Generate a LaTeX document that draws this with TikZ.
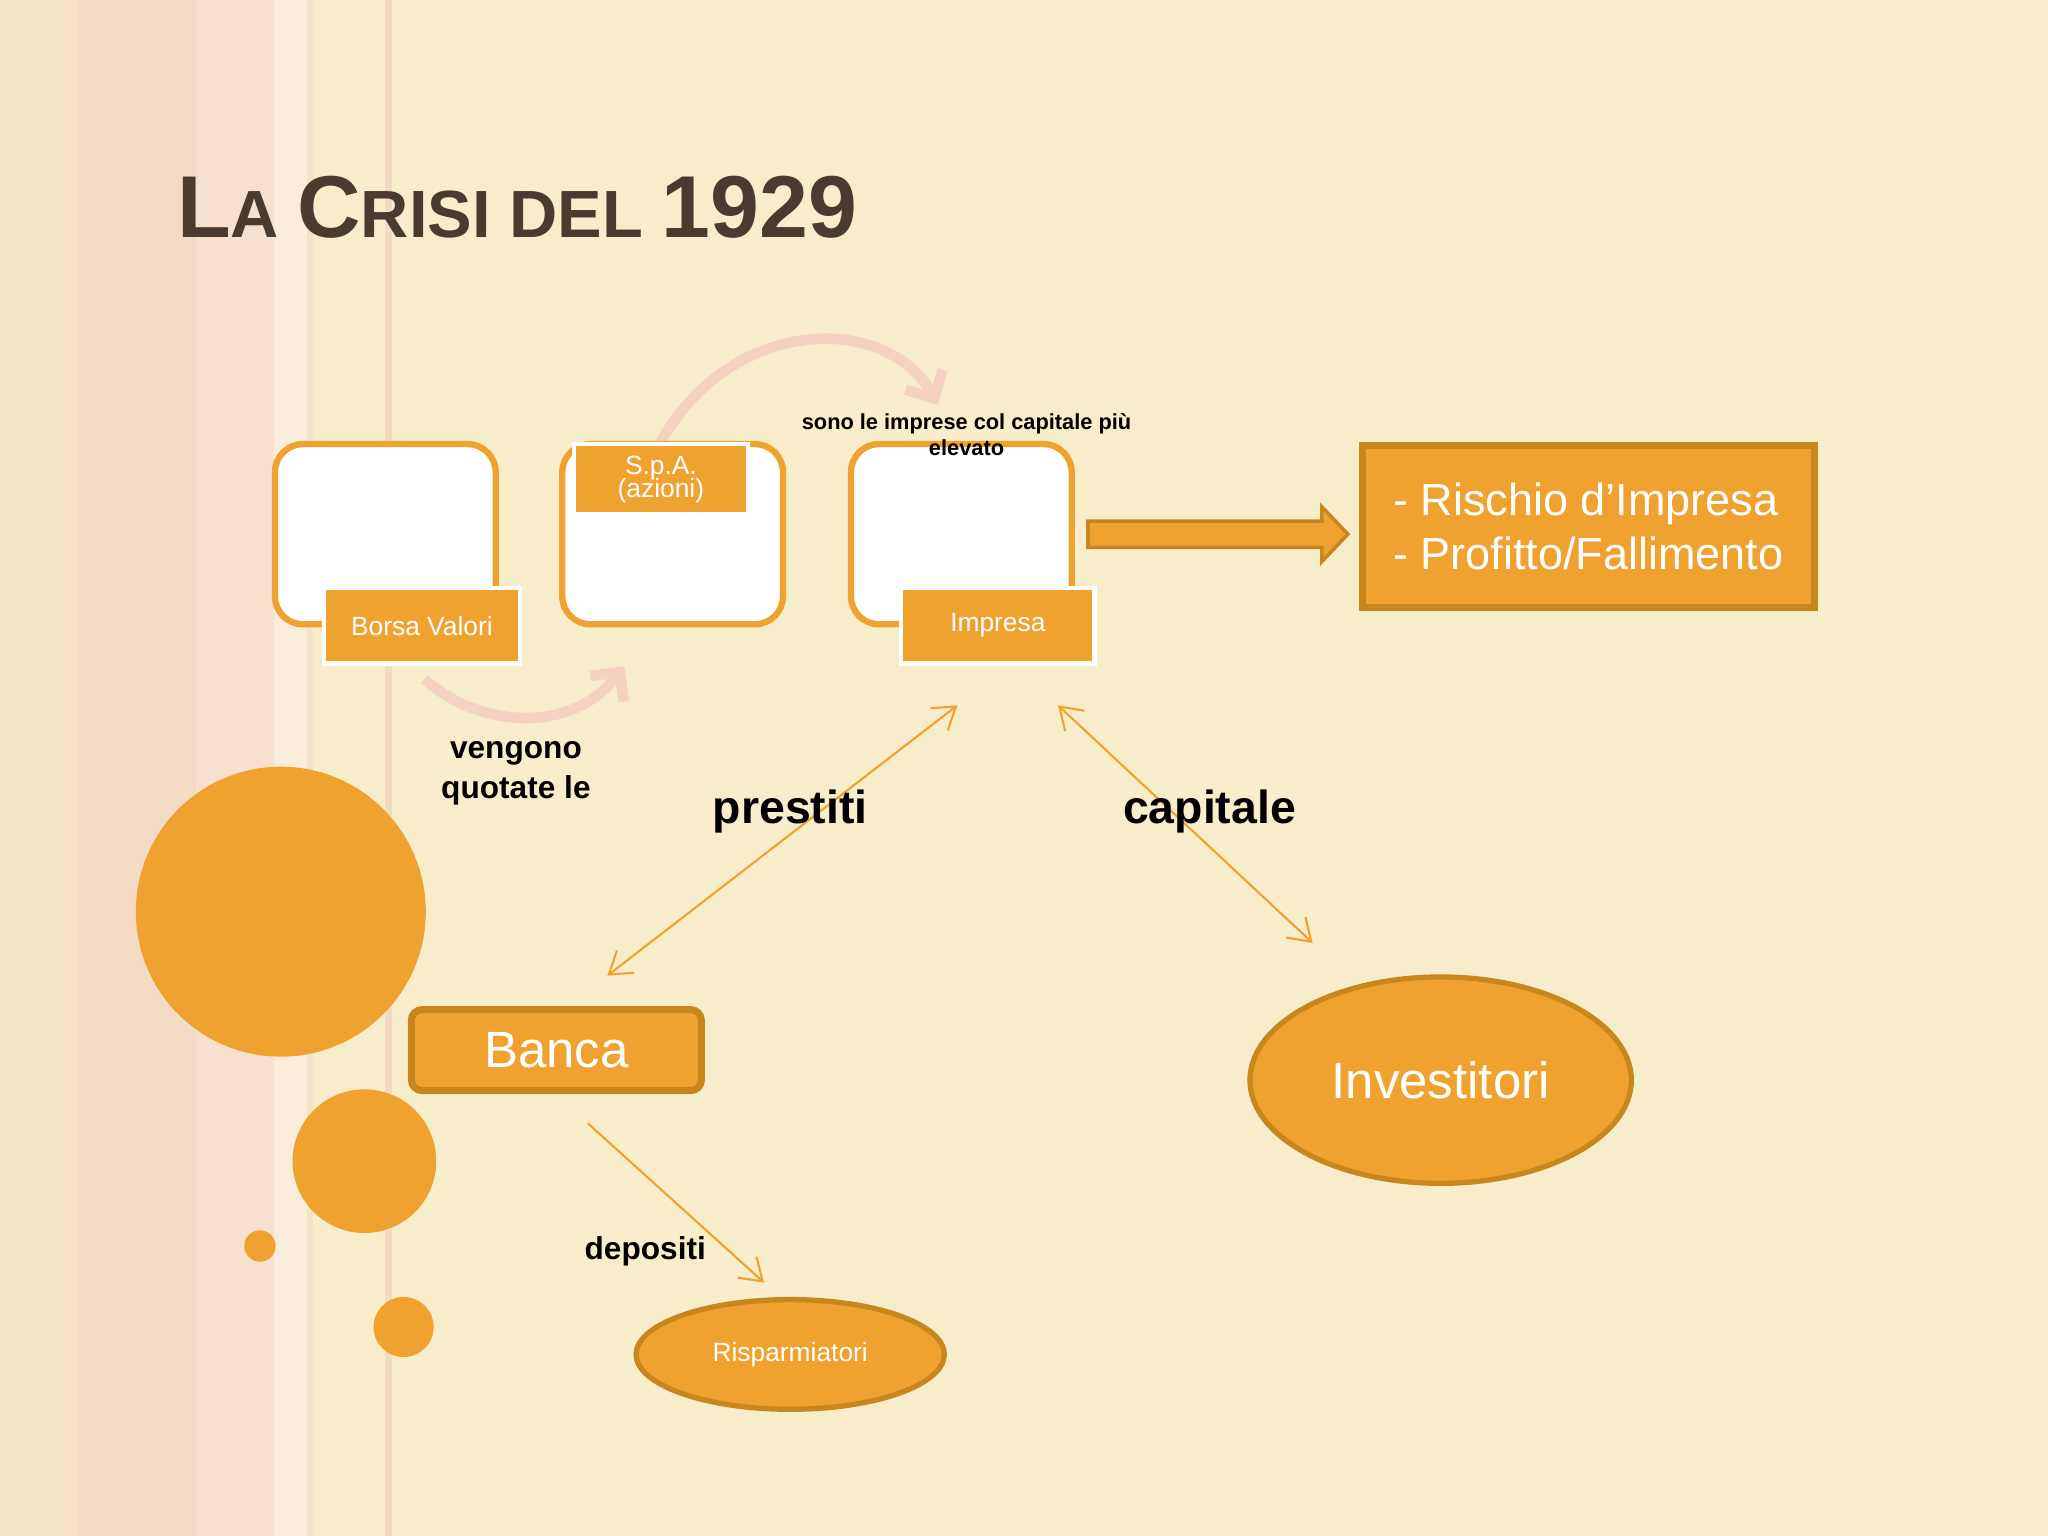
\documentclass[tikz,border=0pt]{standalone}
\usepackage{fontspec}
\setmainfont{Liberation Sans}
\usetikzlibrary{shapes.geometric,arrows.meta}
\definecolor{bg}{HTML}{F8EDCB}
\definecolor{org}{HTML}{EFA22F}
\definecolor{orgd}{HTML}{C8861E}
\definecolor{pinkarc}{HTML}{F5D2C0}
\definecolor{titlec}{HTML}{4A3B2E}
\tikzset{
  frame/.style={draw=org,line width=1.8pt,fill=white,rounded corners=8pt,minimum width=169*0.013061cm,minimum height=138*0.013061cm},
  lab/.style={draw=white,line width=1.2pt,fill=org,text=white,font=\fontsize{7.5}{8.5}\selectfont,align=center},
  thinarr/.style={draw=org,line width=0.6pt,{Straight Barb[length=6pt,width=8pt]}-{Straight Barb[length=6pt,width=8pt]}},
  bt/.style={font=\bfseries,align=center}
}
\begin{document}
\begin{tikzpicture}[x=0.013061cm,y=-0.013061cm]
\useasboundingbox (0,0) rectangle (1568,1176);
\fill[bg] (0,0) rectangle (1568,1176);
% left stripes
\fill[pinkarc,opacity=0.35] (0,0) rectangle (240,1176);
\fill[pinkarc,opacity=0.45] (60,0) rectangle (150,1176);
\fill[pinkarc!70!white,opacity=0.5] (150,0) rectangle (210,1176);
\fill[white,opacity=0.35] (210,0) rectangle (235,1176);
\fill[pinkarc,opacity=0.7] (295,0) rectangle (300,1176);
% title
\node[anchor=base west,inner sep=0pt,text=titlec,font=\bfseries] (title) at (135,182)
 {\fontsize{25}{27}\selectfont L\fontsize{19}{21}\selectfont A \fontsize{25}{27}\selectfont C\fontsize{19}{21}\selectfont RISI DEL \fontsize{25}{27}\selectfont 1929};
% curved arrows
\draw[pinkarc,line width=3pt,-{Straight Barb[length=6pt]}] (505,340) .. controls (560,240) and (680,240) .. (718,310);
\draw[pinkarc,line width=3pt,-{Straight Barb[length=6pt]}] (325,520) .. controls (370,560) and (440,560) .. (478,510);
% frames
\node[frame] (f1) at (295,409) {};
\node[frame] (f2) at (515,409) {};
\node[frame] (f3) at (736,409) {};
\node[lab,minimum width=150*0.013061cm,minimum height=58*0.013061cm] (borsa) at (323,479) {Borsa Valori};
\node[lab,minimum width=133*0.013061cm,minimum height=50*0.013061cm] (spa) at (506,367) {S.p.A.\\[-2pt](azioni)};
\node[lab,minimum width=148*0.013061cm,minimum height=58*0.013061cm] (impresa) at (764,479) {Impresa};
\node[bt,font=\bfseries\fontsize{6.2}{7.5}\selectfont] (sono) at (740,333) {sono le imprese col capitale più\\elevato};
% block arrow
\filldraw[fill=org,draw=orgd,line width=1pt] (833,399) -- (1012,399) -- (1012,388) -- (1032,409) -- (1012,430) -- (1012,419) -- (833,419) -- cycle;
\node[draw=orgd,line width=2pt,fill=org,text=white,minimum width=346*0.013061cm,minimum height=124*0.013061cm,align=left,font=\fontsize{12.8}{15.5}\selectfont] (ris) at (1216,403) {- Rischio d’Impresa\\- Profitto/Fallimento};
% circles
\fill[org] (215,698) circle (111);
\fill[org] (279,889) circle (55);
\fill[org] (199,954) circle (12);
\fill[org] (309,1016) circle (23);
% nodes
\node[draw=orgd,line width=2pt,fill=org,text=white,rounded corners=3pt,minimum width=222*0.013061cm,minimum height=62*0.013061cm,font=\fontsize{14.5}{16}\selectfont] (banca) at (426,804) {Banca};
\node[ellipse,draw=orgd,line width=1.5pt,fill=org,text=white,minimum width=292*0.013061cm,minimum height=158*0.013061cm,font=\fontsize{14.5}{17}\selectfont] (inv) at (1103,827) {Investitori};
\node[ellipse,draw=orgd,line width=1.5pt,fill=org,text=white,minimum width=236*0.013061cm,minimum height=84*0.013061cm,font=\fontsize{7.5}{9}\selectfont] (risp) at (605,1037) {Risparmiatori};
% arrows
\coordinate (a1) at (465,747); \coordinate (a2) at (733,540);
\coordinate (b1) at (810,540); \coordinate (b2) at (1005,722);
\coordinate (c1) at (450,860); \coordinate (c2) at (585,982);
\draw[thinarr] (a1) -- (a2);
\draw[thinarr] (b1) -- (b2);
\draw[draw=org,line width=0.6pt,-{Straight Barb[length=6pt,width=8pt]}] (c1) -- (c2);
% texts
\node[bt,font=\bfseries\fontsize{9}{11.5}\selectfont] (veng) at (395,592) {vengono\\quotate le};
\node[bt,font=\bfseries\fontsize{13.2}{14}\selectfont] (prest) at (605,621) {prestiti};
\node[bt,font=\bfseries\fontsize{13.2}{14}\selectfont] (cap) at (926,621) {capitale};
\node[bt,font=\bfseries\fontsize{9}{11}\selectfont] (dep) at (494,958) {depositi};
\end{tikzpicture}
\end{document}
